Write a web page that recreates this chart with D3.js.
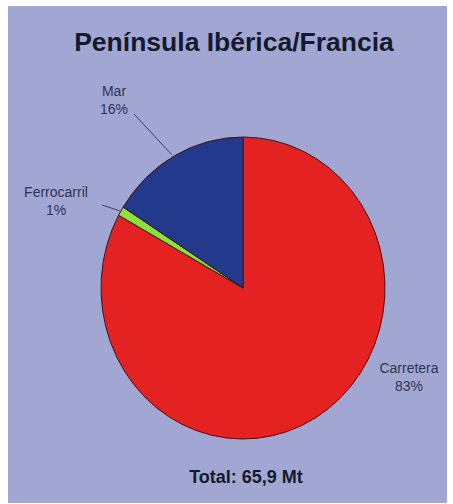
<!DOCTYPE html>
<html>
<head>
<meta charset="utf-8">
<script src="https://cdn.jsdelivr.net/npm/d3@7"></script>
<style>
  html, body { margin: 0; padding: 0; background: #ffffff; }
  svg { display: block; }
  text { font-family: "Liberation Sans", Arial, sans-serif; }
</style>
</head>
<body>
<svg id="chart" width="453" height="504"></svg>
<script>
const title = "Península Ibérica/Francia";
const totalLabel = "Total: 65,9 Mt";
const categories = ["Carretera", "Ferrocarril", "Mar"];
const values = [83, 1, 16];
const percentLabels = ["83%", "1%", "16%"];
const colors = ["#e42222", "#8ee03a", "#22398c"];

const svg = d3.select("#chart");

svg.append("rect").attr("x", 8).attr("y", 6).attr("width", 439).attr("height", 497)
  .attr("fill", "#a2a6d2");

svg.append("text").attr("x", 234).attr("y", 51).attr("text-anchor", "middle")
  .attr("font-size", 26.5).attr("font-weight", "bold").attr("fill", "#141a2e")
  .text(title);

const cx = 243, cy = 288, ry = 151, rx = 142;
const data = categories.map((c, i) => ({ cat: c, value: values[i], pct: percentLabels[i], color: colors[i] }));
const pie = d3.pie().sort(null).value(d => d.value);
const arc = d3.arc().innerRadius(0).outerRadius(ry);
const arcs = pie(data);

const g = svg.append("g").attr("transform", `translate(${cx},${cy}) scale(${rx / ry},1)`);
g.selectAll("path").data(arcs).enter().append("path")
  .attr("d", arc)
  .attr("fill", d => d.data.color)
  .attr("stroke", "#3a1620")
  .attr("stroke-width", 1)
  .attr("vector-effect", "non-scaling-stroke");

const labelPos = {
  "Carretera": { x: 409, y: 373, line: null },
  "Ferrocarril": { x: 56, y: 197, line: [[102, 205], [120, 211]] },
  "Mar": { x: 114, y: 96, line: [[134, 114], [172, 155]] }
};

arcs.forEach(a => {
  const p = labelPos[a.data.cat];
  if (p.line) {
    svg.append("line")
      .attr("x1", p.line[0][0]).attr("y1", p.line[0][1])
      .attr("x2", p.line[1][0]).attr("y2", p.line[1][1])
      .attr("stroke", "#3a4260").attr("stroke-width", 1);
  }
  const t = svg.append("text").attr("text-anchor", "middle")
    .attr("font-size", 14).attr("fill", "#2e3550");
  t.append("tspan").attr("x", p.x).attr("y", p.y).text(a.data.cat);
  t.append("tspan").attr("x", p.x).attr("y", p.y + 18).text(a.data.pct);
});

svg.append("text").attr("x", 246).attr("y", 483).attr("text-anchor", "middle")
  .attr("font-size", 18).attr("font-weight", "bold").attr("fill", "#141a2e")
  .text(totalLabel);
</script>
</body>
</html>
